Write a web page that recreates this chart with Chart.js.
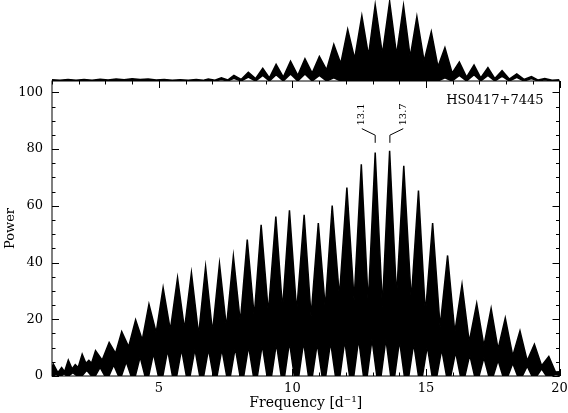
<!DOCTYPE html>
<html>
<head>
<meta charset="utf-8">
<script src="https://cdn.jsdelivr.net/npm/chart.js@4.4.1/dist/chart.umd.min.js"></script>
<style>
  html, body { margin: 0; padding: 0; background: #fff; }
  #wrap { width: 568px; height: 413px; }
</style>
</head>
<body>
<div id="wrap"><canvas id="periodogram" width="568" height="413"></canvas></div>
<script>
// Periodograma (potencia) - envolvente superior: picos y valles
const upperFreq = [
  1.00, 1.05, 1.22, 1.36, 1.47, 1.61, 1.75, 1.87, 1.98, 2.13, 2.27, 2.38, 2.48, 2.63, 2.88,
  3.14, 3.38, 3.61, 3.87, 4.13, 4.38, 4.63, 4.90, 5.16, 5.43, 5.70, 5.96, 6.22, 6.49, 6.75,
  7.01, 7.27, 7.53, 7.79, 8.05, 8.31, 8.57, 8.83, 9.10, 9.38, 9.63, 9.89, 10.16, 10.44, 10.70,
  10.97, 11.23, 11.49, 11.76, 12.04, 12.31, 12.58, 12.84, 13.10, 13.37, 13.64, 13.90, 14.17, 14.45, 14.72,
  14.98, 15.25, 15.53, 15.81, 16.08, 16.35, 16.62, 16.90, 17.17, 17.44, 17.70, 17.97, 18.25, 18.52, 18.79,
  19.06, 19.33, 19.60, 19.85, 20.00
];
const upperPower = [
  3.0, 4.2, 1.2, 3.0, 1.5, 5.6, 2.5, 4.0, 3.0, 7.7, 4.5, 5.5, 4.5, 8.9, 5.6,
  11.8, 8.0, 15.6, 10.3, 19.8, 12.7, 25.3, 15.3, 31.1, 16.2, 34.6, 16.5, 36.4, 14.5, 38.5,
  15.4, 39.6, 17.2, 42.2, 18.9, 48.1, 21.0, 53.3, 22.4, 56.2, 23.5, 58.4, 22.8, 56.8, 21.0,
  53.9, 24.0, 60.1, 27.9, 66.4, 26.7, 74.6, 25.6, 78.8, 24.4, 79.4, 27.9, 74.1, 26.7, 65.4,
  22.0, 53.9, 17.3, 42.5, 15.4, 32.3, 12.0, 25.6, 10.6, 23.8, 9.5, 20.4, 7.1, 15.9, 5.4,
  11.2, 3.6, 6.9, 1.4, 1.5
];

// Envolvente inferior: ceros y vértices de los triángulos blancos
const lowerFreq = [
  1.00,
  1.05, 1.15, 1.25,   1.35, 1.45, 1.55,   1.62, 1.78, 1.94,   2.12, 2.30, 2.48,   2.62, 2.80, 2.98,
  3.13, 3.31, 3.49,   3.60, 3.78, 3.96,   4.12, 4.30, 4.48,   4.62, 4.80, 4.98,   5.15, 5.33, 5.51,
  5.67, 5.85, 6.03,   6.17, 6.35, 6.53,   6.68, 6.86, 7.04,   7.18, 7.36, 7.54,   7.68, 7.86, 8.04,
  8.18, 8.36, 8.54,   8.69, 8.87, 9.05,   9.22, 9.40, 9.58,   9.71, 9.89, 10.07,  10.24, 10.42, 10.60,
  10.75, 10.93, 11.11, 11.25, 11.43, 11.61, 11.78, 11.96, 12.14, 12.30, 12.48, 12.66, 12.80, 12.98, 13.16,
  13.32, 13.50, 13.68, 13.83, 14.01, 14.19, 14.36, 14.54, 14.72, 14.87, 15.05, 15.23, 15.41, 15.59, 15.77,
  15.93, 16.11, 16.29, 16.46, 16.64, 16.82, 16.99, 17.17, 17.35, 17.52, 17.70, 17.88, 18.07, 18.25, 18.43,
  18.61, 18.79, 18.97, 19.15, 19.33, 19.51, 19.70, 19.86, 20.00
];
const lowerPower = [
  0,
  0, 0.6, 0,   0, 0.8, 0,   0, 1.2, 0,   0, 2.0, 0,   0, 3.0, 0,
  0, 3.9, 0,   0, 5.0, 0,   0, 6.8, 0,   0, 8.0, 0,   0, 9.1, 0,
  0, 9.5, 0,   0, 9.5, 0,   0, 9.5, 0,   0, 9.5, 0,   0, 10.0, 0,
  0, 10.5, 0,  0, 11.0, 0,  0, 11.5, 0,  0, 12.0, 0,  0, 12.0, 0,
  0, 11.5, 0,  0, 12.0, 0,  0, 12.5, 0,  0, 13.0, 0,  0, 13.0, 0,
  0, 13.0, 0,  0, 12.5, 0,  0, 11.5, 0,  0, 10.5, 0,  0, 9.5, 0,
  0, 8.5, 0,   0, 7.5, 0,   0, 6.5, 0,   0, 5.5, 0,   0, 4.5, 0,
  0, 3.5, 0,   0, 2.5, 0,   0, 0.6, 0.2
];

// Función ventana (panel superior), potencia relativa
const windowFreq = [
  1.00, 1.30, 1.60, 1.90, 2.20, 2.50, 2.80, 3.10, 3.40, 3.70, 4.00, 4.30, 4.60, 4.90, 5.20,
  5.50, 5.80, 6.10, 6.40, 6.65, 6.85, 7.10, 7.34, 7.58, 7.81, 8.08, 8.35, 8.62, 8.89, 9.14,
  9.39, 9.66, 9.93, 10.20, 10.47, 10.74, 11.01, 11.28, 11.55, 11.81, 12.07, 12.33, 12.60, 12.85, 13.10,
  13.37, 13.64, 13.90, 14.16, 14.41, 14.66, 14.93, 15.20, 15.45, 15.71, 15.98, 16.25, 16.52, 16.80, 17.05,
  17.32, 17.58, 17.85, 18.12, 18.40, 18.67, 18.95, 19.20, 19.45, 19.72, 20.00
];
const windowUpper = [
  0.015, 0.008, 0.018, 0.008, 0.020, 0.010, 0.022, 0.012, 0.025, 0.015, 0.028, 0.018, 0.025, 0.012, 0.018,
  0.008, 0.015, 0.008, 0.020, 0.008, 0.025, 0.010, 0.040, 0.012, 0.070, 0.020, 0.110, 0.030, 0.160, 0.040,
  0.210, 0.050, 0.250, 0.070, 0.280, 0.100, 0.310, 0.140, 0.460, 0.220, 0.650, 0.280, 0.820, 0.320, 0.960,
  0.340, 1.000, 0.330, 0.950, 0.300, 0.810, 0.250, 0.620, 0.180, 0.420, 0.100, 0.240, 0.050, 0.200, 0.040,
  0.170, 0.030, 0.130, 0.025, 0.090, 0.020, 0.055, 0.012, 0.030, 0.010, 0.015
];
const windowLower = [
  0, 0, 0, 0, 0, 0, 0, 0, 0, 0, 0, 0, 0, 0, 0,
  0, 0, 0, 0, 0, 0.010, 0, 0.020, 0, 0.035, 0, 0.050, 0, 0.070, 0,
  0.080, 0, 0.090, 0, 0.090, 0, 0.070, 0, 0.040, 0, 0, 0, 0, 0, 0,
  0, 0, 0, 0, 0, 0, 0, 0, 0, 0.040, 0, 0.070, 0, 0.080, 0,
  0.070, 0, 0.060, 0, 0.045, 0, 0.030, 0, 0.015, 0, 0
];

// Marcas de ejes
const xTickLabels = [5, 10, 15, 20];
const yTickLabels = [0, 20, 40, 60, 80, 100];

// Picos identificados
const peakLabels = ['13.1', '13.7'];
const peakFreq = [13.1, 13.65];

const FONT = 'DejaVu Serif';

function toPoints(xs, ys) {
    return xs.map((x, i) => ({ x: x, y: ys[i] }));
}

// Marco, marcas internas y anotaciones
const framePlugin = {
    id: 'frame',
    afterDatasetsDraw(chart) {
        const ctx = chart.ctx;
        const xs = chart.scales.x;
        const ys = chart.scales.y;
        const left = chart.chartArea.left;
        const right = chart.chartArea.right;
        const top = ys.top;
        const bottom = ys.bottom;

        ctx.save();
        ctx.strokeStyle = '#000';
        ctx.lineWidth = 1;
        ctx.strokeRect(left, top, right - left, bottom - top);

        ctx.beginPath();
        for (let f = 1; f <= 20; f++) {
            const px = Math.round(xs.getPixelForValue(f)) + 0.5;
            const len = (f % 5 === 0) ? 7 : 3.5;
            ctx.moveTo(px, bottom); ctx.lineTo(px, bottom - len);
            ctx.moveTo(px, top); ctx.lineTo(px, top + len);
        }
        for (let p = 0; p <= 100; p += 5) {
            const py = Math.round(ys.getPixelForValue(p)) + 0.5;
            const len = (p % 20 === 0) ? 7 : 3.5;
            ctx.moveTo(left, py); ctx.lineTo(left + len, py);
            ctx.moveTo(right, py); ctx.lineTo(right - len, py);
        }
        ctx.stroke();

        // Etiquetas de los picos
        ctx.font = '10px "' + FONT + '"';
        ctx.fillStyle = '#000';
        peakLabels.forEach((label, i) => {
            const side = i === 0 ? -1 : 1;
            const x0 = xs.getPixelForValue(peakFreq[i]);
            const x1 = xs.getPixelForValue(peakFreq[i] + side * 0.5);
            ctx.beginPath();
            ctx.moveTo(x0, ys.getPixelForValue(82.2));
            ctx.lineTo(x0, ys.getPixelForValue(84.9));
            ctx.lineTo(x1, ys.getPixelForValue(87.2));
            ctx.stroke();
            ctx.save();
            ctx.translate(x1, ys.getPixelForValue(88.3));
            ctx.rotate(-Math.PI / 2);
            ctx.textAlign = 'left';
            ctx.textBaseline = 'middle';
            ctx.fillText(label, 0, 0);
            ctx.restore();
        });

        ctx.font = '13px "' + FONT + '"';
        ctx.textAlign = 'right';
        ctx.textBaseline = 'middle';
        ctx.fillText('HS0417+7445', right - 16, ys.getPixelForValue(97));
        ctx.restore();
    }
};

const lineStyle = {
    borderColor: '#000',
    backgroundColor: '#000',
    borderWidth: 1.5,
    pointRadius: 0,
    tension: 0
};

new Chart(document.getElementById('periodogram'), {
    type: 'line',
    data: {
        datasets: [
            Object.assign({ label: 'Power', data: toPoints(upperFreq, upperPower), yAxisID: 'y', fill: '+1' }, lineStyle),
            Object.assign({ label: 'Power (min)', data: toPoints(lowerFreq, lowerPower), yAxisID: 'y', fill: false }, lineStyle),
            Object.assign({ label: 'Window', data: toPoints(windowFreq, windowUpper), yAxisID: 'yw', fill: '+1' }, lineStyle),
            Object.assign({ label: 'Window (min)', data: toPoints(windowFreq, windowLower), yAxisID: 'yw', fill: false }, lineStyle)
        ]
    },
    options: {
        responsive: false,
        animation: false,
        devicePixelRatio: 1,
        layout: { padding: { left: 0, right: 8.5, top: 0, bottom: 0 } },
        plugins: {
            legend: { display: false },
            tooltip: { enabled: false }
        },
        scales: {
            x: {
                type: 'linear',
                position: 'bottom',
                min: 1,
                max: 20,
                afterBuildTicks: scale => { scale.ticks = xTickLabels.map(v => ({ value: v })); },
                ticks: { color: '#000', font: { family: FONT, size: 13 }, padding: 5, maxRotation: 0, autoSkip: false },
                grid: { display: false, drawTicks: false },
                border: { display: false },
                title: { display: true, text: 'Frequency [d⁻¹]', color: '#000', font: { family: FONT, size: 14 }, padding: { top: 0, bottom: 1 } },
                afterFit: scale => {
                    scale.height = 37;
                    scale.paddingLeft = 0;
                    scale.paddingRight = 0;
                }
            },
            y: {
                type: 'linear',
                position: 'left',
                stack: 'panels',
                stackWeight: 295,
                min: 0,
                max: 104,
                afterBuildTicks: scale => { scale.ticks = yTickLabels.map(v => ({ value: v })); },
                ticks: { color: '#000', font: { family: FONT, size: 13 }, padding: 9 },
                grid: { display: false, drawTicks: false },
                border: { display: false },
                title: { display: true, text: 'Power', color: '#000', font: { family: FONT, size: 13 }, padding: { top: 3, bottom: 0 } },
                afterFit: scale => {
                    scale.width = 52;
                    scale.paddingTop = 0;
                    scale.paddingBottom = 0;
                }
            },
            yw: {
                type: 'linear',
                position: 'left',
                stack: 'panels',
                stackWeight: 81,
                min: 0,
                max: 1.02,
                ticks: { display: false },
                grid: { display: false, drawTicks: false },
                border: { display: false },
                afterFit: scale => {
                    scale.width = 52;
                    scale.paddingTop = 0;
                    scale.paddingBottom = 0;
                }
            }
        }
    },
    plugins: [framePlugin]
});
</script>
</body>
</html>
